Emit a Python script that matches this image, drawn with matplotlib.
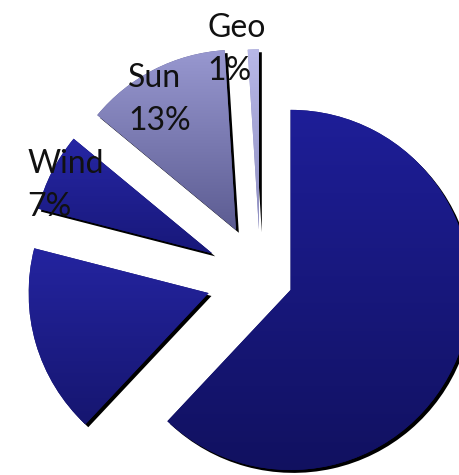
import matplotlib

matplotlib.use("Agg")
import matplotlib.pyplot as plt
import numpy as np
from matplotlib.colors import LinearSegmentedColormap

# energy mix (slices go counter-clockwise from 12 o'clock)
sources = ["Geo", "Sun", "Wind", "Other", "Fossil"]
shares = [1, 13, 7, 17, 62]
shown_labels = ["Geo", "Sun", "Wind"]

explode = [0.27, 0.3, 0.3, 0.3, 0.18]
top_colors = ["#b8b8e8", "#9898d0", "#2626a4", "#2424a0", "#1e1e98"]
bottom_colors = ["#8e8ec0", "#5c5c92", "#18187a", "#161670", "#111160"]

# label anchors (left edge, baseline of the name line), data units
label_pos = {"Geo": (-0.297, 1.339), "Sun": (-0.736, 1.061), "Wind": (-1.297, 0.583)}
line_gap = 0.24

fig = plt.figure(figsize=(4.59, 4.75), dpi=100, facecolor="white")
ax = fig.add_axes([0, 0, 1, 1])

# drop shadow
ax.pie(shares, explode=explode, startangle=90, counterclock=True,
       colors=["#000000"] * len(shares), center=(0.016, -0.016),
       wedgeprops={"linewidth": 0})

wedges, _ = ax.pie(shares, explode=explode, startangle=90, counterclock=True,
                   colors=bottom_colors, wedgeprops={"linewidth": 0})

grad = np.linspace(0, 1, 256).reshape(-1, 1)
for w, c_top, c_bot in zip(wedges, top_colors, bottom_colors):
    ext = w.get_path().get_extents()
    cmap = LinearSegmentedColormap.from_list("g", [c_bot, c_top])
    im = ax.imshow(grad, cmap=cmap, origin="lower", aspect="auto",
                   extent=[ext.x0, ext.x1, ext.y0, ext.y1], zorder=w.get_zorder())
    im.set_clip_path(w)

for name, share in zip(sources, shares):
    if name not in shown_labels:
        continue
    x, y = label_pos[name]
    ax.text(x, y, name, ha="left", va="baseline", fontsize=23,
            family="Lato", color="#111111", zorder=5)
    ax.text(x, y - line_gap, f"{share}%", ha="left", va="baseline", fontsize=23,
            family="Lato", color="#111111", zorder=5)

ax.set_xlim(-1.447, 1.103)
ax.set_ylim(-1.094, 1.544)
ax.set_aspect("auto")
ax.axis("off")

fig.savefig("out.png", dpi=100, facecolor="white")
